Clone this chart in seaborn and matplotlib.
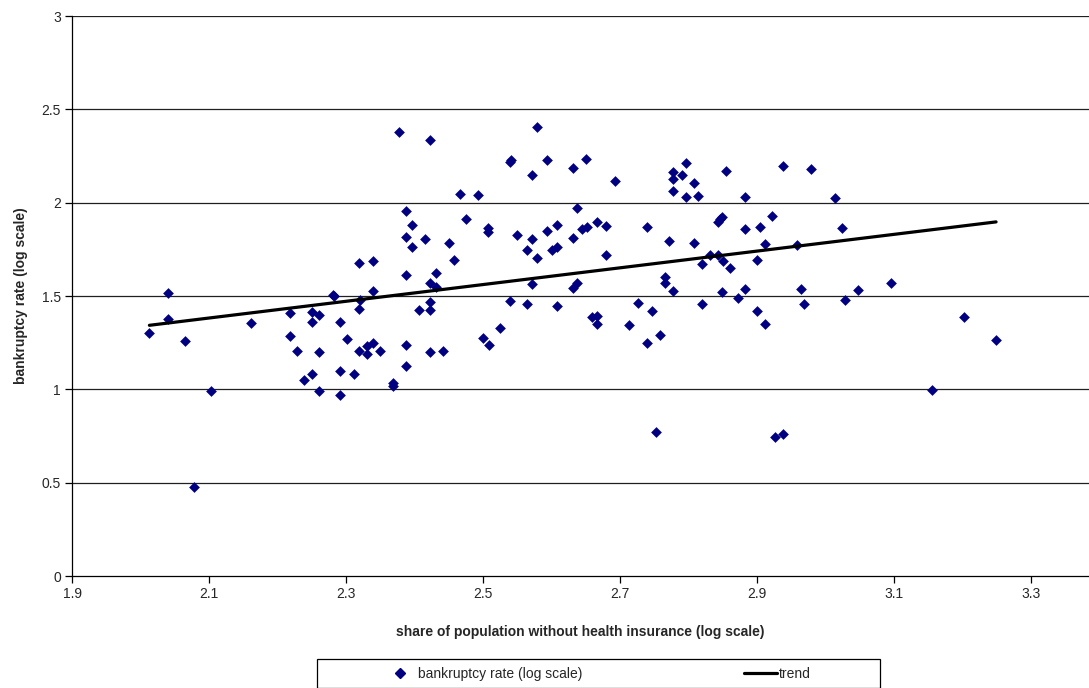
import numpy as np
import pandas as pd
import matplotlib
matplotlib.use('Agg')
import matplotlib.pyplot as plt
from matplotlib.patches import Rectangle
from matplotlib.lines import Line2D
import seaborn as sns

# values
uninsured_log = [
    2.013, 2.040, 2.040, 2.065, 2.078, 2.103, 2.162, 2.218, 2.218, 2.228,
    2.239, 2.250, 2.250, 2.250, 2.261, 2.261, 2.261, 2.281, 2.283, 2.291,
    2.291, 2.291, 2.301, 2.311, 2.319, 2.319, 2.319, 2.321, 2.330, 2.330,
    2.340, 2.340, 2.340, 2.350, 2.369, 2.369, 2.378, 2.388, 2.388, 2.388,
    2.388, 2.388, 2.397, 2.397, 2.406, 2.415, 2.423, 2.423, 2.423, 2.423,
    2.423, 2.432, 2.432, 2.441, 2.450, 2.458, 2.467, 2.475, 2.492, 2.500,
    2.508, 2.508, 2.509, 2.525, 2.540, 2.541, 2.540, 2.549, 2.564, 2.564,
    2.571, 2.571, 2.572, 2.579, 2.579, 2.594, 2.594, 2.601, 2.608, 2.608,
    2.608, 2.631, 2.631, 2.631, 2.637, 2.637, 2.645, 2.651, 2.652, 2.659,
    2.666, 2.666, 2.666, 2.680, 2.680, 2.693, 2.713, 2.726, 2.739, 2.739,
    2.746, 2.753, 2.758, 2.765, 2.765, 2.771, 2.777, 2.777, 2.777, 2.778,
    2.790, 2.796, 2.796, 2.808, 2.808, 2.814, 2.820, 2.820, 2.831, 2.843,
    2.846, 2.849, 2.843, 2.849, 2.850, 2.855, 2.861, 2.872, 2.883, 2.883,
    2.883, 2.900, 2.900, 2.905, 2.911, 2.911, 2.922, 2.927, 2.938, 2.938,
    2.958, 2.964, 2.969, 2.979, 3.014, 3.024, 3.029, 3.048, 3.095, 3.155,
    3.202, 3.249,
]
bankruptcy_log = [
    1.300, 1.515, 1.375, 1.259, 0.476, 0.990, 1.354, 1.409, 1.286, 1.207,
    1.050, 1.413, 1.361, 1.081, 1.398, 1.200, 0.990, 1.506, 1.500, 1.359,
    1.097, 0.972, 1.270, 1.084, 1.677, 1.431, 1.206, 1.479, 1.232, 1.190,
    1.689, 1.527, 1.247, 1.206, 1.032, 1.020, 2.377, 1.955, 1.816, 1.613,
    1.238, 1.125, 1.879, 1.763, 1.427, 1.804, 2.334, 1.571, 1.466, 1.424,
    1.202, 1.625, 1.550, 1.204, 1.786, 1.693, 2.045, 1.911, 2.041, 1.275,
    1.862, 1.843, 1.236, 1.330, 2.218, 2.226, 1.475, 1.829, 1.747, 1.459,
    2.148, 1.806, 1.566, 2.404, 1.702, 2.227, 1.850, 1.745, 1.879, 1.763,
    1.447, 2.184, 1.811, 1.543, 1.970, 1.568, 1.861, 2.234, 1.871, 1.386,
    1.897, 1.393, 1.352, 1.877, 1.722, 2.116, 1.347, 1.463, 1.870, 1.250,
    1.420, 0.770, 1.291, 1.602, 1.568, 1.795, 2.164, 2.129, 2.063, 1.527,
    2.148, 2.214, 2.031, 2.106, 1.784, 2.038, 1.670, 1.459, 1.718, 1.897,
    1.910, 1.922, 1.722, 1.523, 1.686, 2.168, 1.649, 1.490, 2.029, 1.861,
    1.538, 1.693, 1.418, 1.871, 1.777, 1.350, 1.930, 0.747, 2.198, 0.759,
    1.775, 1.538, 1.456, 2.182, 2.023, 1.864, 1.479, 1.531, 1.568, 0.998,
    1.386, 1.263,
]
trend_x = [2.013, 3.249]
trend_y = [1.343, 1.897]

x_ticks = [1.9, 2.1, 2.3, 2.5, 2.7, 2.9, 3.1, 3.3]
y_ticks = [0, 0.5, 1, 1.5, 2, 2.5, 3]

df = pd.DataFrame({'x': uninsured_log, 'y': bankruptcy_log})
trend = pd.DataFrame({'x': trend_x, 'y': trend_y})

sns.set_style('white')
plt.rcParams['font.family'] = ['Liberation Sans', 'DejaVu Sans']

fig = plt.figure(figsize=(10.89, 6.88), dpi=100)
ax = fig.add_axes([72/1089, 1 - 576/688, 1 - 72/1089, (576 - 16)/688])

for yv in y_ticks[1:]:
    ax.axhline(yv, color='#202020', lw=0.9, zorder=0)

sns.scatterplot(data=df, x='x', y='y', marker='D', s=30, color='#000080',
                linewidth=0, ax=ax, zorder=3, legend=False)
sns.lineplot(data=trend, x='x', y='y', color='black', lw=2.3, ax=ax,
             zorder=4, legend=False)

ax.set_xlim(1.9, 1.9 + (1089 - 72)/685)
ax.set_ylim(0, 3)
ax.set_xticks(x_ticks)
ax.set_xticklabels([f'{t:g}' for t in x_ticks])
ax.set_yticks(y_ticks)
ax.set_yticklabels([f'{t:g}' for t in y_ticks])
ax.tick_params(axis='both', direction='out', length=5, width=0.9,
               color='black', labelsize=10, pad=3, bottom=True, left=True)
for s in ['top', 'right']:
    ax.spines[s].set_visible(False)
for s in ['left', 'bottom']:
    ax.spines[s].set_color('black')
    ax.spines[s].set_linewidth(0.9)

ax.set_xlabel('share of population without health insurance (log scale)',
              fontsize=10, fontweight='bold', labelpad=17)
ax.set_ylabel('bankruptcy rate (log scale)', fontsize=10, fontweight='bold',
              labelpad=10)

handles = [
    Line2D([], [], marker='D', color='#000080', linestyle='none', markersize=5.5),
    Line2D([], [], color='black', lw=2.3),
]
fig.legend(handles, ['bankruptcy rate (log scale)', 'trend'], loc='center',
           bbox_to_anchor=(597/1089, 1 - 674/688), ncol=2, frameon=False,
           fontsize=10, handlelength=2.4, handletextpad=0.1, columnspacing=11.6)
fig.patches.append(Rectangle((317/1089, 1 - 688/688), (880 - 317)/1089,
                             (688 - 659)/688, transform=fig.transFigure,
                             fill=False, edgecolor='black', lw=0.9))

fig.savefig('out.png', dpi=100)
